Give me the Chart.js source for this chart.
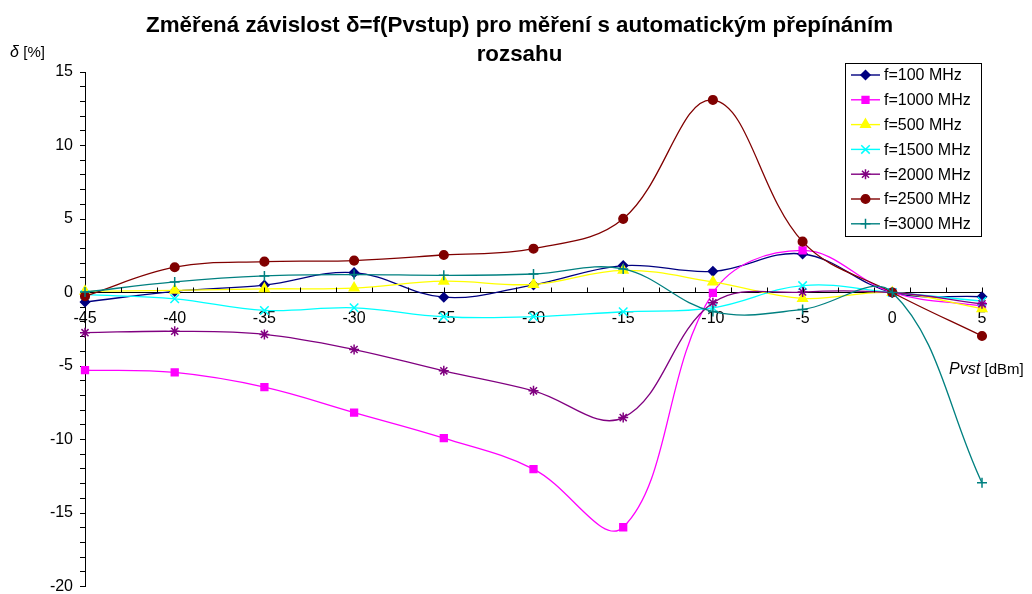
<!DOCTYPE html>
<html>
<head>
<meta charset="utf-8">
<title>Změřená závislost δ=f(Pvstup)</title>
<script src="https://cdn.jsdelivr.net/npm/chart.js@4/dist/chart.umd.min.js"></script>
<style>
  html, body { margin: 0; padding: 0; background: #ffffff; }
  #wrap { width: 1032px; height: 594px; position: relative; }
</style>
</head>
<body>
<div id="wrap"><canvas id="chart" width="1032" height="594"></canvas></div>
<script>
// Input power levels Pvst [dBm]
const powerLevels = [-45, -40, -35, -30, -25, -20, -15, -10, -5, 0, 5];

// Relative error δ [%] for each measured frequency
const dev100  = [-0.65, 0.08, 0.50, 1.35, -0.32, 0.52, 1.83, 1.44, 2.62, 0, -0.29];
const dev1000 = [-5.28, -5.44, -6.44, -8.17, -9.91, -12.01, -15.97, -0.02, 2.86, 0, -0.93];
const dev500  = [0.08, 0.15, 0.25, 0.30, 0.77, 0.55, 1.51, 0.72, -0.40, 0, -1.10];
const dev1500 = [-0.15, -0.43, -1.22, -1.04, -1.65, -1.65, -1.31, -1.04, 0.47, 0, -0.59];
const dev2000 = [-2.73, -2.64, -2.85, -3.88, -5.33, -6.69, -8.51, -0.70, 0.03, 0, -0.77];
const dev2500 = [-0.25, 1.72, 2.10, 2.17, 2.55, 2.98, 5.01, 13.10, 3.46, 0, -2.96];
const dev3000 = [0.03, 0.72, 1.13, 1.22, 1.17, 1.26, 1.60, -1.30, -1.15, 0, -12.95];

const seriesLabels = ['f=100 MHz', 'f=1000 MHz', 'f=500 MHz', 'f=1500 MHz', 'f=2000 MHz', 'f=2500 MHz', 'f=3000 MHz'];

// Axis tick labels
const xTickValues = [-45, -40, -35, -30, -25, -20, -15, -10, -5, 0, 5];
const yTickValues = [15, 10, 5, 0, -5, -10, -15, -20];

const TITLE_LINES = ['Změřená závislost δ=f(Pvstup) pro měření s automatickým přepínáním', 'rozsahu'];
const FONT = '"Liberation Sans", Arial, Helvetica, sans-serif';

const styles = [
  { color: '#000080', point: 'rectRot',  r: 4.5 },
  { color: '#FF00FF', point: 'rect',     r: 4.8 },
  { color: '#FFFF00', point: 'triangle', r: 5.5 },
  { color: '#00FFFF', point: 'crossRot', r: 6.0 },
  { color: '#800080', point: 'star',     r: 5.0 },
  { color: '#800000', point: 'circle',   r: 4.3 },
  { color: '#008080', point: 'cross',    r: 5.0 }
];
const seriesValues = [dev100, dev1000, dev500, dev1500, dev2000, dev2500, dev3000];

const datasets = seriesValues.map((vals, i) => ({
  label: seriesLabels[i],
  data: powerLevels.map((p, k) => ({ x: p, y: vals[k] })),
  borderColor: styles[i].color,
  backgroundColor: styles[i].color,
  pointBackgroundColor: styles[i].color,
  pointBorderColor: styles[i].color,
  pointStyle: styles[i].point,
  pointRadius: styles[i].r,
  pointHoverRadius: styles[i].r,
  pointBorderWidth: 1.5,
  borderWidth: 1.3,
  tension: 0.38,
  fill: false,
  clip: false,
  order: 10 - i
}));

// Odd-valued minor ticks along the x axis, pointing up from the zero line
const minorTicksPlugin = {
  id: 'minorTicks',
  afterDraw(chart) {
    const ctx = chart.ctx, xs = chart.scales.x, ys = chart.scales.y;
    const y0 = ys.getPixelForValue(0);
    ctx.save();
    ctx.strokeStyle = '#000';
    ctx.lineWidth = 1;
    ctx.beginPath();
    for (let v = -43; v <= 5; v += 2) {
      const px = Math.round(xs.getPixelForValue(v)) + 0.5;
      ctx.moveTo(px, y0);
      ctx.lineTo(px, y0 - 5);
    }
    ctx.stroke();
    ctx.restore();
  }
};

// Title and axis captions
const captionsPlugin = {
  id: 'captions',
  afterDraw(chart) {
    const ctx = chart.ctx;
    ctx.save();
    ctx.fillStyle = '#000';
    ctx.textBaseline = 'middle';
    ctx.textAlign = 'center';
    ctx.font = 'bold 22px ' + FONT;
    const w = ctx.measureText(TITLE_LINES[0]).width;
    const sx = 747 / w;
    const cx = 519.5;
    [26, 55].forEach((y, i) => {
      ctx.save();
      ctx.translate(cx, y);
      ctx.scale(sx, 1);
      ctx.fillText(TITLE_LINES[i], 0, 0);
      ctx.restore();
    });

    ctx.textAlign = 'left';
    ctx.font = 'italic 16px ' + FONT;
    ctx.fillText('δ', 10, 53);
    let wd = ctx.measureText('δ ').width;
    ctx.font = '15px ' + FONT;
    ctx.fillText('[%]', 10 + wd, 53);

    ctx.font = 'italic 16px ' + FONT;
    ctx.fillText('Pvst', 949, 370);
    wd = ctx.measureText('Pvst ').width;
    ctx.font = '15px ' + FONT;
    ctx.fillText('[dBm]', 949 + wd, 370);
    ctx.restore();
  }
};

// Boxed legend in the upper right of the plot
const boxLegendPlugin = {
  id: 'boxLegend',
  afterDraw(chart) {
    const ctx = chart.ctx;
    const left = 845, top = 63, right = 982, bottom = 237;
    ctx.save();
    ctx.fillStyle = '#fff';
    ctx.fillRect(left, top, right - left, bottom - top);
    ctx.strokeStyle = '#000';
    ctx.lineWidth = 1;
    ctx.strokeRect(left + 0.5, top + 0.5, right - left - 1, bottom - top - 1);
    ctx.font = '16px ' + FONT;
    ctx.textBaseline = 'middle';
    ctx.textAlign = 'left';
    chart.data.datasets.forEach((ds, i) => {
      const y = 75 + i * 24.8;
      ctx.strokeStyle = ds.borderColor;
      ctx.lineWidth = 1.4;
      ctx.beginPath();
      ctx.moveTo(851, y);
      ctx.lineTo(880, y);
      ctx.stroke();
      ctx.fillStyle = ds.pointBackgroundColor;
      ctx.strokeStyle = ds.pointBorderColor;
      ctx.lineWidth = ds.pointBorderWidth;
      Chart.helpers.drawPoint(ctx, { pointStyle: ds.pointStyle, radius: ds.pointRadius, rotation: 0, borderWidth: ds.pointBorderWidth }, 865.5, y);
      ctx.fillStyle = '#000';
      ctx.fillText(ds.label, 884, y + 1);
    });
    ctx.restore();
  }
};

new Chart(document.getElementById('chart'), {
  type: 'line',
  data: { datasets },
  options: {
    responsive: false,
    devicePixelRatio: 1,
    animation: false,
    events: [],
    layout: { padding: { top: 72, right: 50, bottom: 4, left: 0 } },
    plugins: {
      legend: { display: false },
      title: { display: false },
      tooltip: { enabled: false }
    },
    scales: {
      x: {
        type: 'linear',
        position: { y: 0 },
        min: -45,
        max: 5,
        afterBuildTicks: s => { s.ticks = xTickValues.map(v => ({ value: v })); },
        grid: { drawOnChartArea: false, drawTicks: false },
        border: { color: '#000', width: 1 },
        ticks: {
          color: '#000',
          padding: 16,
          maxRotation: 0,
          autoSkip: false,
          font: { family: FONT, size: 16 },
          callback: v => String(v)
        }
      },
      y: {
        type: 'linear',
        position: 'left',
        min: -20,
        max: 15,
        afterBuildTicks: s => {
          const t = [];
          for (let v = -20; v <= 15; v++) t.push({ value: v });
          s.ticks = t;
        },
        afterFit: s => { s.width = 85; s.paddingTop = 0; s.paddingBottom = 0; },
        grid: { drawOnChartArea: false, drawTicks: true, tickLength: 5, tickColor: '#000', tickWidth: 1 },
        border: { color: '#000', width: 1 },
        ticks: {
          color: '#000',
          padding: 7,
          autoSkip: false,
          font: { family: FONT, size: 16 },
          callback: v => (yTickValues.includes(v) ? String(v) : '')
        }
      }
    }
  },
  plugins: [minorTicksPlugin, captionsPlugin, boxLegendPlugin]
});
</script>
</body>
</html>
